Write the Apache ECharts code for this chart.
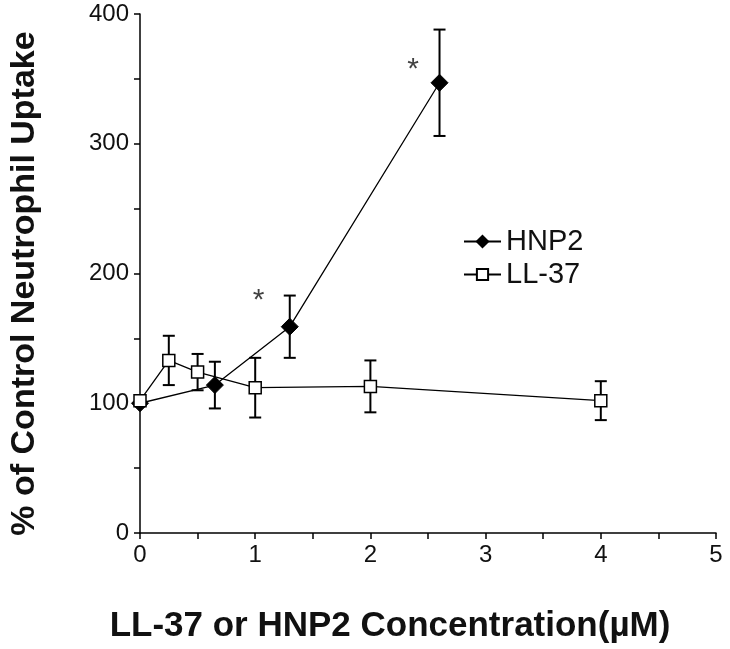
<!DOCTYPE html>
<html>
<head>
<meta charset="utf-8">
<script src="https://cdn.jsdelivr.net/npm/echarts@6/dist/echarts.min.js"></script>
<style>html,body{margin:0;padding:0;background:#fff}#c{width:730px;height:649px}</style>
</head>
<body>
<div id="c"></div>
<script>
// Data
var hnp2X = [0, 0.65, 1.3, 2.6];
var hnp2Y = [100, 114, 159, 347];
var hnp2Err = [0, 18, 24, 41];
var ll37X = [0, 0.25, 0.5, 1, 2, 4];
var ll37Y = [102, 133, 124, 112, 113, 102];
var ll37Err = [0, 19, 14, 23, 20, 15];
var starX = [1.03, 2.37];
var starY = [179, 357];
var xTicks = [0, 1, 2, 3, 4, 5];
var yTicks = [0, 100, 200, 300, 400];

function pairs(xs, ys) { return xs.map(function (x, i) { return [x, ys[i]]; }); }
function errData(xs, ys, es) {
  var out = [];
  xs.forEach(function (x, i) { if (es[i] > 0) out.push([x, ys[i] - es[i], ys[i] + es[i]]); });
  return out;
}
function errRender(params, api) {
  var x = api.value(0), lo = api.value(1), hi = api.value(2);
  var pLo = api.coord([x, lo]), pHi = api.coord([x, hi]);
  var w = 6;
  var st = { stroke: '#000', lineWidth: 2 };
  return {
    type: 'group',
    children: [
      { type: 'line', shape: { x1: pLo[0], y1: pLo[1], x2: pHi[0], y2: pHi[1] }, style: st },
      { type: 'line', shape: { x1: pLo[0] - w, y1: pLo[1], x2: pLo[0] + w, y2: pLo[1] }, style: st },
      { type: 'line', shape: { x1: pHi[0] - w, y1: pHi[1], x2: pHi[0] + w, y2: pHi[1] }, style: st }
    ]
  };
}

var chart = echarts.init(document.getElementById('c'), null, { renderer: 'canvas' });
var font = '"Liberation Sans", Arial, sans-serif';
chart.setOption({
  animation: false,
  backgroundColor: '#fff',
  grid: { left: 137, right: 14, top: 14, bottom: 115, containLabel: false },
  legend: {
    left: 458, top: 222, orient: 'vertical', itemGap: 4, itemWidth: 37, itemHeight: 14,
    data: ['HNP2', 'LL-37'],
    textStyle: { fontFamily: font, fontSize: 29, color: '#111' }
  },
  xAxis: {
    type: 'value', min: 0, max: 5, interval: 1,
    name: 'LL-37 or HNP2 Concentration(\u00b5M)', nameLocation: 'middle', nameGap: 76,
    nameTextStyle: { fontFamily: font, fontSize: 35, fontWeight: 'bold', color: '#111', padding: [0, 76, 0, 0] },
    axisLine: { show: true, lineStyle: { color: '#000', width: 1.5 } },
    axisTick: { show: true, length: 6, lineStyle: { color: '#000', width: 1.5 } },
    minorTick: { show: true, splitNumber: 2, length: 6, lineStyle: { color: '#000', width: 1.5 } },
    axisLabel: { fontFamily: font, fontSize: 24, color: '#111', margin: 10,
      formatter: function (v) { return xTicks.indexOf(v) >= 0 ? String(v) : ''; } },
    splitLine: { show: false }
  },
  yAxis: {
    type: 'value', min: 0, max: 400, interval: 100,
    name: '% of Control Neutrophil Uptake', nameLocation: 'middle', nameGap: 98,
    nameTextStyle: { fontFamily: font, fontSize: 34, fontWeight: 'bold', color: '#111', padding: [0, 20, 0, 0] },
    axisLine: { show: true, lineStyle: { color: '#000', width: 1.5 } },
    axisTick: { show: true, length: 6, lineStyle: { color: '#000', width: 1.5 } },
    minorTick: { show: true, splitNumber: 2, length: 6, lineStyle: { color: '#000', width: 1.5 } },
    axisLabel: { fontFamily: font, fontSize: 24, color: '#111', margin: 11,
      formatter: function (v) { return yTicks.indexOf(v) >= 0 ? String(v) : ''; } },
    splitLine: { show: false }
  },
  series: [
    { type: 'custom', name: 'errH', renderItem: errRender, data: errData(hnp2X, hnp2Y, hnp2Err), z: 1, silent: true },
    { type: 'custom', name: 'errL', renderItem: errRender, data: errData(ll37X, ll37Y, ll37Err), z: 1, silent: true },
    {
      type: 'line', name: 'HNP2', data: pairs(hnp2X, hnp2Y), z: 3,
      symbol: 'diamond', symbolSize: 17, showAllSymbol: true,
      lineStyle: { color: '#000', width: 1.3 },
      itemStyle: { color: '#000', borderColor: '#000', borderWidth: 1 }
    },
    {
      type: 'line', name: 'LL-37', data: pairs(ll37X, ll37Y), z: 4,
      symbol: 'rect', symbolSize: 12, showAllSymbol: true,
      lineStyle: { color: '#000', width: 1.3 },
      itemStyle: { color: '#fff', borderColor: '#000', borderWidth: 1.5 }
    },
    {
      type: 'scatter', name: 'stars', data: pairs(starX, starY), symbolSize: 0, silent: true,
      label: { show: true, formatter: '*', position: 'inside', fontFamily: font, fontSize: 30, color: '#111' }
    }
  ]
});
</script>
</body>
</html>
